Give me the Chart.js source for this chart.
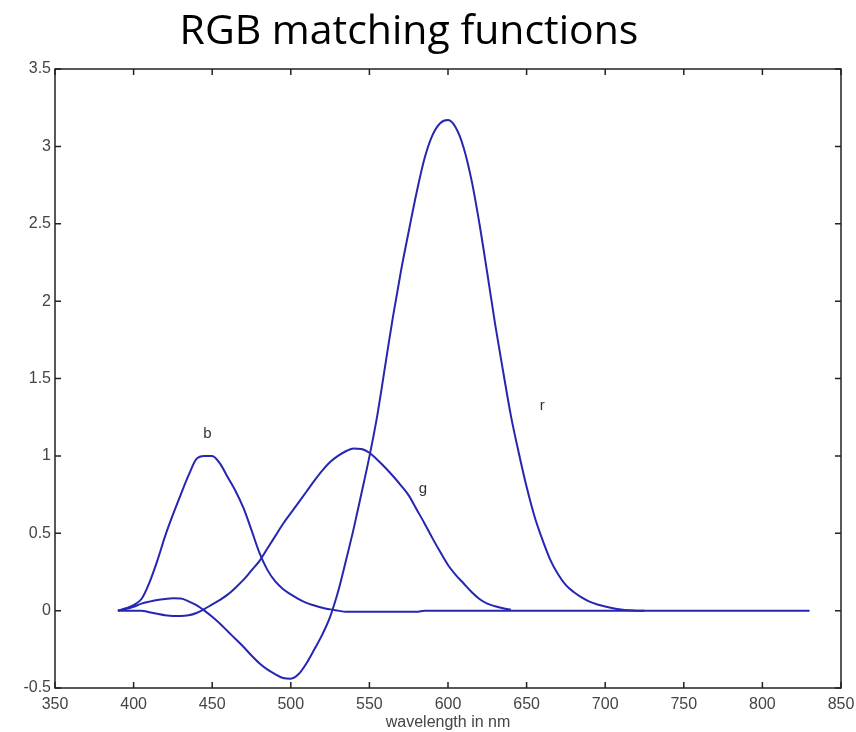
<!DOCTYPE html>
<html>
<head>
<meta charset="utf-8">
<title>RGB matching functions</title>
<script src="https://cdn.jsdelivr.net/npm/chart.js@4.4.1/dist/chart.umd.min.js"></script>
<style>
  html, body { margin: 0; padding: 0; background: #fff; }
  #wrap { width: 856px; height: 732px; position: relative; }
</style>
</head>
<body>
<div id="wrap"><canvas id="rgbChart" width="856" height="732"></canvas></div>
<script>
// wavelengths (nm), 5 nm steps 390..725, then the tail end at 830
const wavelengths = [
  390, 395, 400, 405, 410, 415, 420, 425, 430, 435, 440, 445, 450, 455, 460, 465, 470, 475, 480, 485,
  490, 495, 500, 505, 510, 515, 520, 525, 530, 535, 540, 545, 550, 555, 560, 565, 570, 575, 580, 585,
  590, 595, 600, 605, 610, 615, 620, 625, 630, 635, 640, 645, 650, 655, 660, 665, 670, 675, 680, 685,
  690, 695, 700, 705, 710, 715, 720, 725, 830
];

const rValues = [
  0, 0.01, 0.025, 0.045, 0.058, 0.068, 0.075, 0.08, 0.078, 0.06, 0.035, 0.0, -0.04, -0.085, -0.135, -0.185, -0.235, -0.29, -0.34, -0.38,
  -0.41, -0.435, -0.44, -0.41, -0.34, -0.25, -0.155, -0.04, 0.12, 0.32, 0.53, 0.76, 0.995, 1.26, 1.58, 1.9, 2.19, 2.45, 2.7, 2.92,
  3.07, 3.15, 3.17, 3.12, 2.99, 2.78, 2.5, 2.18, 1.85, 1.55, 1.26, 1.02, 0.8, 0.61, 0.46, 0.33, 0.235, 0.165, 0.12, 0.085,
  0.058, 0.04, 0.027, 0.016, 0.008, 0.003, 0, 0, 0
];

const gValues = [
  0, 0, 0, 0, -0.01, -0.02, -0.03, -0.035, -0.035, -0.03, -0.015, 0.01, 0.04, 0.07, 0.105, 0.15, 0.2, 0.26, 0.32, 0.4,
  0.48, 0.56, 0.63, 0.7, 0.77, 0.84, 0.905, 0.96, 1.0, 1.03, 1.048, 1.045, 1.02, 0.975, 0.925, 0.87, 0.81, 0.745, 0.655, 0.565,
  0.47, 0.38, 0.295, 0.23, 0.175, 0.12, 0.075, 0.045, 0.028, 0.015, 0.005, null, null, null, null, null, null, null, null, null,
  null, null, null, null, null, null, null, null, null
];

const bValues = [
  0, 0.015, 0.036, 0.075, 0.18, 0.32, 0.48, 0.62, 0.75, 0.875, 0.98, 1.0, 1.0, 0.95, 0.86, 0.77, 0.66, 0.52, 0.375, 0.265,
  0.19, 0.14, 0.105, 0.075, 0.05, 0.033, 0.018, 0.008, 0, -0.008, -0.008, -0.008, -0.008, -0.008, -0.008, -0.008, -0.008, -0.008, -0.008, 0,
  0, 0, 0, 0, 0, 0, 0, 0, 0, 0, 0, 0, 0, 0, 0, 0, 0, 0, 0, 0,
  0, 0, 0, 0, 0, 0, 0, 0, null
];

const xTicks = [350, 400, 450, 500, 550, 600, 650, 700, 750, 800, 850];
const yTicks = [-0.5, 0, 0.5, 1, 1.5, 2, 2.5, 3, 3.5];

// curve labels placed in data coordinates
const curveLabels = ['b', 'g', 'r'];
const curveLabelX = [447, 584, 660];
const curveLabelY = [1.14, 0.79, 1.32];

const lineColor = '#2626b0';
const tickFont = { family: '"Liberation Sans", Arial, sans-serif', size: 16 };

function toPoints(values) {
  const pts = [];
  values.forEach((v, i) => {
    if (v !== null) pts.push({ x: wavelengths[i], y: v });
  });
  return pts;
}

// frame, inward ticks on all four sides, title and curve labels
const matlabAxes = {
  id: 'matlabAxes',
  afterDatasetsDraw(chart) {
    const { ctx, chartArea: a, scales } = chart;
    const x = scales.x, y = scales.y;
    const len = 6;
    ctx.save();
    ctx.strokeStyle = '#222';
    ctx.lineWidth = 1.5;
    ctx.strokeRect(a.left, a.top, a.right - a.left, a.bottom - a.top);
    ctx.beginPath();
    xTicks.forEach(t => {
      const px = x.getPixelForValue(t);
      ctx.moveTo(px, a.bottom); ctx.lineTo(px, a.bottom - len);
      ctx.moveTo(px, a.top); ctx.lineTo(px, a.top + len);
    });
    yTicks.forEach(t => {
      const py = y.getPixelForValue(t);
      ctx.moveTo(a.left, py); ctx.lineTo(a.left + len, py);
      ctx.moveTo(a.right, py); ctx.lineTo(a.right - len, py);
    });
    ctx.stroke();

    ctx.fillStyle = '#333';
    ctx.font = '15px "Liberation Sans", Arial, sans-serif';
    ctx.textAlign = 'center';
    ctx.textBaseline = 'middle';
    curveLabels.forEach((s, i) => {
      ctx.fillText(s, x.getPixelForValue(curveLabelX[i]), y.getPixelForValue(curveLabelY[i]));
    });

    ctx.fillStyle = '#000';
    ctx.font = '41px "Open Sans", Lato, sans-serif';
    ctx.textBaseline = 'alphabetic';
    ctx.fillText('RGB matching functions', 409, 44);
    ctx.restore();
  }
};

const ctx = document.getElementById('rgbChart').getContext('2d');

const rgbChart = new Chart(ctx, {
  type: 'line',
  data: {
    datasets: [
      { label: 'r', data: toPoints(rValues) },
      { label: 'g', data: toPoints(gValues) },
      { label: 'b', data: toPoints(bValues) }
    ].map(ds => Object.assign(ds, {
      borderColor: lineColor,
      borderWidth: 2,
      pointRadius: 0,
      fill: false,
      cubicInterpolationMode: 'monotone'
    }))
  },
  options: {
    responsive: false,
    animation: false,
    devicePixelRatio: 1,
    layout: { padding: { top: 69, right: 15, left: 0, bottom: 0 } },
    plugins: {
      legend: { display: false },
      tooltip: { enabled: false }
    },
    scales: {
      x: {
        type: 'linear',
        min: 350,
        max: 850,
        afterBuildTicks: s => { s.ticks = xTicks.map(v => ({ value: v })); },
        afterFit: s => { s.height = 44; s.paddingLeft = 0; s.paddingRight = 0; },
        grid: { display: false, drawTicks: false },
        border: { display: false },
        ticks: {
          padding: 7,
          color: '#444',
          font: tickFont,
          callback: v => String(v)
        },
        title: {
          display: true,
          text: 'wavelength in nm',
          color: '#444',
          padding: { top: -6, bottom: 0 },
          font: { family: '"Liberation Sans", Arial, sans-serif', size: 16 }
        }
      },
      y: {
        type: 'linear',
        min: -0.5,
        max: 3.5,
        afterBuildTicks: s => { s.ticks = yTicks.map(v => ({ value: v })); },
        afterFit: s => { s.width = 55; s.paddingTop = 0; s.paddingBottom = 0; },
        grid: { display: false, drawTicks: false },
        border: { display: false },
        ticks: {
          padding: 4,
          color: '#444',
          font: tickFont,
          callback: v => String(v)
        }
      }
    }
  },
  plugins: [matlabAxes]
});
</script>
</body>
</html>
